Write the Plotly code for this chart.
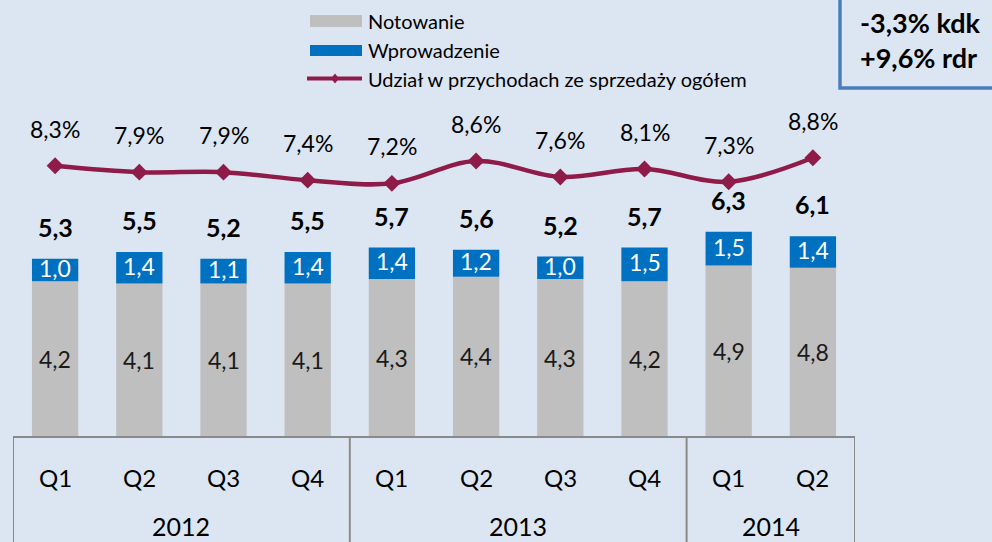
import plotly.graph_objects as go

# ---------------- data ----------------
quarters = ["Q1", "Q2", "Q3", "Q4", "Q1", "Q2", "Q3", "Q4", "Q1", "Q2"]
years = ["2012", "2013", "2014"]
year_counts = [4, 4, 2]
notowanie = [4.2, 4.1, 4.1, 4.1, 4.3, 4.4, 4.3, 4.2, 4.9, 4.8]
wprowadzenie = [1.0, 1.4, 1.1, 1.4, 1.4, 1.2, 1.0, 1.5, 1.5, 1.4]
razem = [5.3, 5.5, 5.2, 5.5, 5.7, 5.6, 5.2, 5.7, 6.3, 6.1]
udzial = [8.3, 7.9, 7.9, 7.4, 7.2, 8.6, 7.6, 8.1, 7.3, 8.8]
box_lines = ["-3,3% kdk", "+9,6% rdr"]
legend_names = ["Notowanie", "Wprowadzenie", "Udział w przychodach ze sprzedaży ogółem"]

# ---------------- style ----------------
W, H = 992, 542
BG = "#dce6f2"
GRAY = "#bfbfbf"
BLUE = "#0070c0"
MAROON = "#8e1b48"
AXIS = "#8a8a8a"
FONT = "Lato"
PL, PR, PT, PB = 13, 855, 100, 436          # plot area in pixels
AXIS_MIN, AXIS_MAX = -2.67, 12.25           # primary axis (bars start at axis floor)
Y2_MIN, Y2_MAX = -8.59, 12.41               # secondary axis (percent)


def px(x):
    return x / W


def py(y):
    return 1 - y / H


def fmt(v, suffix=""):
    return f"{v:.1f}".replace(".", ",") + suffix


cats = [f"{q} {y}" for q, y in zip(quarters, [yy for yy, c in zip(years, year_counts) for _ in range(c)])]

fig = go.Figure()
fig.add_trace(go.Bar(
    x=cats, y=[v - AXIS_MIN for v in notowanie], base=AXIS_MIN,
    marker=dict(color=GRAY, line=dict(width=0)), name=legend_names[0], hoverinfo="skip"))
fig.add_trace(go.Bar(
    x=cats, y=wprowadzenie, base=notowanie,
    marker=dict(color=BLUE, line=dict(width=0)), name=legend_names[1], hoverinfo="skip"))
fig.add_trace(go.Scatter(
    x=cats, y=udzial, yaxis="y2", mode="lines+markers", name=legend_names[2],
    line=dict(color=MAROON, width=4.5, shape="spline", smoothing=1),
    marker=dict(symbol="diamond", size=13, color=MAROON), hoverinfo="skip"))

ann = []
shapes = []
for i, c in enumerate(cats):
    ann.append(dict(x=c, y=udzial[i], xref="x", yref="y2", text=fmt(udzial[i], "%"), yanchor="middle",
                    showarrow=False, yshift=37, font=dict(family=FONT, size=23, color="#000")))
    ann.append(dict(x=c, y=notowanie[i] + wprowadzenie[i], xref="x", yref="y", text="<b>" + fmt(razem[i]) + "</b>",
                    yanchor="middle", showarrow=False, yshift=32, font=dict(family=FONT, size=25, color="#000")))
    ann.append(dict(x=c, y=notowanie[i] + wprowadzenie[i] / 2, xref="x", yref="y", text=fmt(wprowadzenie[i]),
                    yanchor="middle", yshift=2, showarrow=False, font=dict(family=FONT, size=23, color="#ffffff")))
    ann.append(dict(x=c, y=(notowanie[i] + AXIS_MIN) / 2, xref="x", yref="y", text=fmt(notowanie[i]),
                    yanchor="middle", showarrow=False, font=dict(family=FONT, size=23, color="#1a1a1a")))
    ann.append(dict(x=c, y=py(477), xref="x", yref="paper", text=quarters[i], showarrow=False,
                    xanchor="center", yanchor="middle", font=dict(family=FONT, size=24, color="#000")))

start = 0
bounds = [-0.5]
for yname, cnt in zip(years, year_counts):
    ann.append(dict(x=start + (cnt - 1) / 2, y=py(542), xref="x", yref="paper", text=yname,
                    xanchor="center", yanchor="bottom", borderpad=0,
                    showarrow=False, font=dict(family=FONT, size=25, color="#000")))
    start += cnt
    bounds.append(start - 0.5)
for b in bounds:
    shapes.append(dict(type="line", xref="x", yref="paper", x0=b, x1=b, y0=py(PB), y1=py(H + 5),
                       line=dict(color=AXIS, width=2)))

# manual legend
shapes.append(dict(type="rect", xref="paper", yref="paper", x0=px(310), x1=px(362), y0=py(15), y1=py(27),
                   fillcolor=GRAY, line=dict(width=0)))
shapes.append(dict(type="rect", xref="paper", yref="paper", x0=px(310), x1=px(362), y0=py(45), y1=py(56),
                   fillcolor=BLUE, line=dict(width=0)))
shapes.append(dict(type="line", xref="paper", yref="paper", x0=px(307), x1=px(362), y0=py(78.5), y1=py(78.5),
                   line=dict(color=MAROON, width=4)))
dx, dy = 4, 5
cx, cy = 335, 78.5
shapes.append(dict(type="path", xref="paper", yref="paper",
                   path=f"M {px(cx - dx)} {py(cy)} L {px(cx)} {py(cy - dy)} L {px(cx + dx)} {py(cy)} L {px(cx)} {py(cy + dy)} Z",
                   fillcolor=MAROON, line=dict(width=0)))
for name, yc in zip(legend_names, [21, 50, 79]):
    ann.append(dict(x=px(366), y=py(yc), xref="paper", yref="paper", text=name, xanchor="left", yanchor="middle",
                    showarrow=False, font=dict(family=FONT, size=20, color="#000")))

# top-right box
shapes.append(dict(type="rect", xref="paper", yref="paper", x0=px(840), x1=px(1010), y0=py(88), y1=py(-10),
                   line=dict(color="#4a7ebb", width=3.5), fillcolor="rgba(0,0,0,0)"))
for t, yc in zip(box_lines, [22, 57]):
    ann.append(dict(x=px(858), y=py(yc), xref="paper", yref="paper", text="<b>" + t + "</b>", xanchor="left",
                    yanchor="middle", showarrow=False, font=dict(family=FONT, size=27, color="#000")))

fig.update_layout(
    width=W, height=H, autosize=False,
    margin=dict(l=0, r=0, t=0, b=0),
    paper_bgcolor=BG, plot_bgcolor=BG,
    barmode="overlay", bargap=0.45, showlegend=False,
    xaxis=dict(domain=[px(PL), px(PR)], type="category", range=[-0.5, 9.5], showticklabels=False,
               showgrid=False, zeroline=False, showline=True, linecolor=AXIS, linewidth=2, ticks=""),
    yaxis=dict(domain=[py(PB), py(PT)], range=[AXIS_MIN, AXIS_MAX], visible=False),
    yaxis2=dict(domain=[py(PB), py(PT)], range=[Y2_MIN, Y2_MAX], overlaying="y", visible=False),
    annotations=ann, shapes=shapes,
)

fig.write_html(
    "out.html",
    config={"displayModeBar": False},
    post_script="document.body.style.margin='0';document.body.style.overflow='hidden';"
                "document.body.style.background='" + BG + "';",
)
